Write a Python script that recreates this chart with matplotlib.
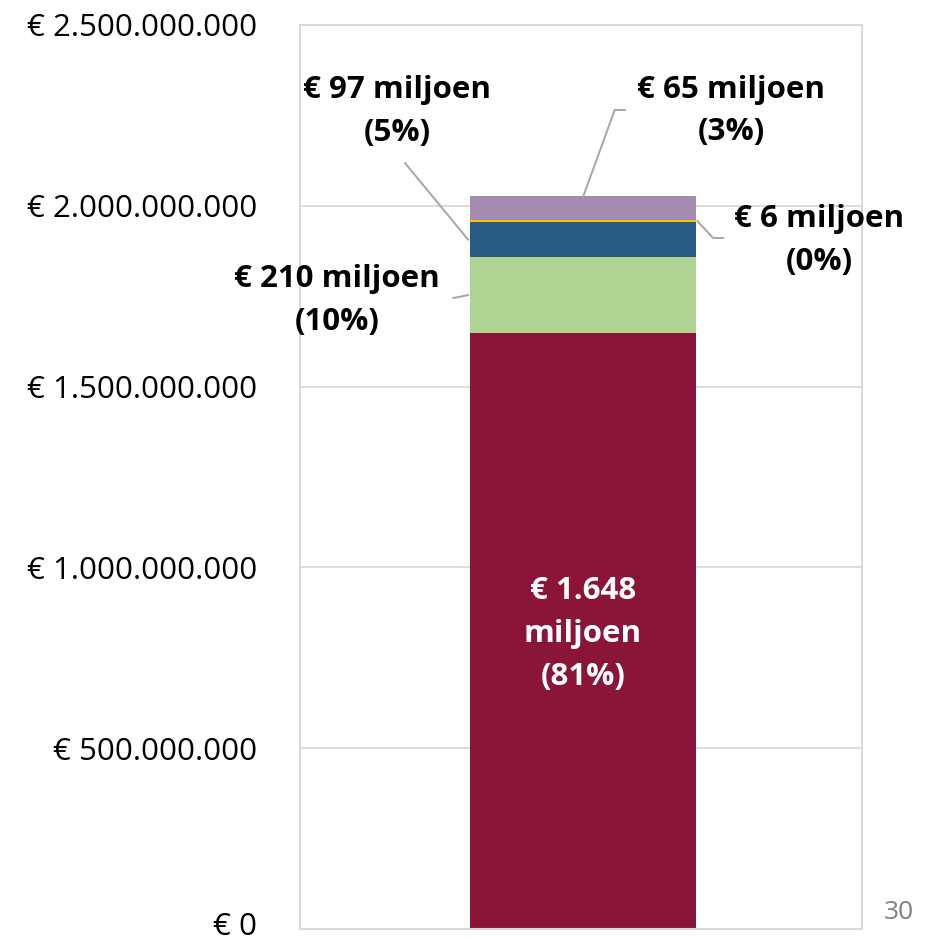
import numpy as np
import matplotlib.pyplot as plt
import matplotlib.transforms as mtransforms

plt.rcParams['font.family'] = ['Open Sans', 'DejaVu Sans']

# segment values in euro (bottom to top)
values = [1648e6, 210e6, 97e6, 6e6, 65e6]
labels = ['€ 1.648\nmiljoen\n(81%)', '€ 210 miljoen\n(10%)', '€ 97 miljoen\n(5%)',
          '€ 6 miljoen\n(0%)', '€ 65 miljoen\n(3%)']
colors = ['#8B1538', '#AED392', '#285C87', '#FFC000', '#A68BB0']
yticks = [0, 500e6, 1000e6, 1500e6, 2000e6, 2500e6]
ytick_labels = ['€ 0', '€ 500.000.000', '€ 1.000.000.000', '€ 1.500.000.000',
                '€ 2.000.000.000', '€ 2.500.000.000']

fig = plt.figure(figsize=(9.35, 9.39), dpi=100)
ax = fig.add_axes([0.3209, 0.0106, 0.601, 0.9628])

width = 0.402
bottoms = np.concatenate([[0], np.cumsum(values)[:-1]])
for v, b, c in zip(values, bottoms, colors):
    ax.bar(0.003, v, width=width, bottom=b, color=c, zorder=2)

ax.set_xlim(-0.5, 0.5)
ax.set_ylim(0, 2.5e9)
ax.set_xticks([])
ax.set_yticks(yticks)
ax.set_yticklabels(ytick_labels, fontsize=22.5)
ax.tick_params(axis='y', length=0, pad=31)
ax.grid(axis='y', color='#D9D9D9', lw=1.3, zorder=0)
for s in ax.spines.values():
    s.set_color('#D9D9D9')
    s.set_linewidth(1.5)

# nudge the bottom label up so it stays inside the figure
lbl0 = ax.get_yticklabels()[0]
lbl0.set_transform(lbl0.get_transform() + mtransforms.ScaledTranslation(0, 6 / 100, fig.dpi_scale_trans))

lab_kw = dict(fontsize=22.5, fontweight='bold', ha='center', va='center', linespacing=1.55)
line_kw = dict(color='#A6A6A6', lw=1.4, zorder=3)
half = width / 2
tops = bottoms + np.array(values)

# big segment, inside
ax.text(0.003, bottoms[0] + values[0] * 0.495, labels[0], color='white', **lab_kw)

# 210 miljoen, left
y210 = bottoms[1] + values[1] / 2
ax.plot([-half, -half - 0.026], [y210, y210 - 8e6], **line_kw)
ax.text(-0.434, 1.739e9, labels[1], **lab_kw)

# 97 miljoen, upper left
y97 = bottoms[2] + values[2] / 2
ax.plot([-half, -0.313], [y97, 2.118e9], **line_kw)
ax.text(-0.327, 2.26e9, labels[2], **lab_kw)

# 6 miljoen, right
y6 = bottoms[3] + values[3] / 2
ax.plot([half + 0.006, 0.235, 0.253], [y6, 1.911e9, 1.911e9], **line_kw)
ax.text(0.424, 1.904e9, labels[3], **lab_kw)

# 65 miljoen, upper right
ax.plot([0.004, 0.06, 0.078], [tops[4], 2.265e9, 2.265e9], **line_kw)
ax.text(0.267, 2.262e9, labels[4], **lab_kw)

fig.text(0.961, 0.015, '30', fontsize=19, color='#808080', ha='center', va='bottom')

plt.savefig('out.png', dpi=100)
